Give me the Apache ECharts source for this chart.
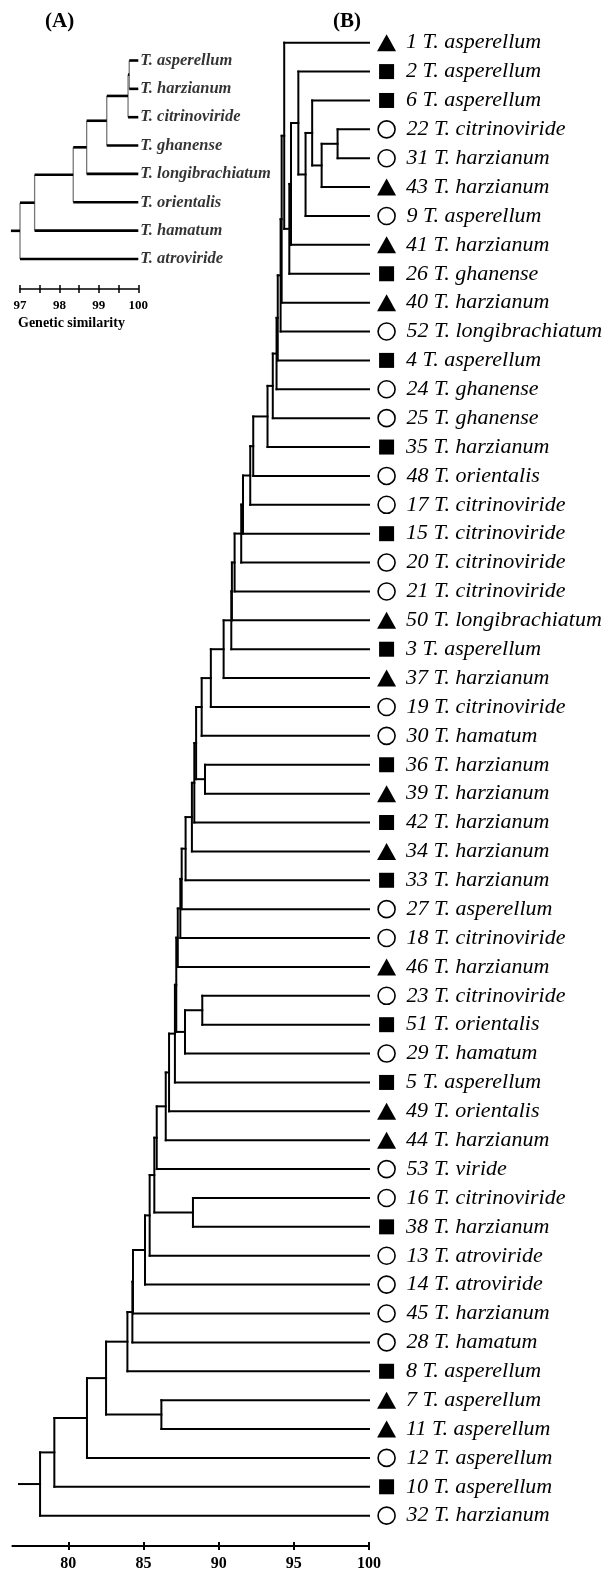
<!DOCTYPE html>
<html><head><meta charset="utf-8">
<script src="https://cdn.jsdelivr.net/npm/echarts@6/dist/echarts.min.js"></script>
<style>html,body{margin:0;padding:0;background:#fff}#c{width:608px;height:1574px}</style>
</head><body><div id="c"></div>
<script>
// ---------- DATA: panel B (dendrogram of strains) ----------
const strainOrder = [1,2,6,22,31,43,9,41,26,40,52,4,24,25,35,48,17,15,20,21,50,3,37,19,30,36,39,42,34,33,27,18,46,23,51,29,5,49,44,53,16,38,13,14,45,28,8,7,11,12,10,32];
const strainSpecies = ['asperellum','asperellum','asperellum','citrinoviride','harzianum','harzianum','asperellum','harzianum','ghanense','harzianum','longibrachiatum','asperellum','ghanense','ghanense','harzianum','orientalis','citrinoviride','citrinoviride','citrinoviride','citrinoviride','longibrachiatum','asperellum','harzianum','citrinoviride','hamatum','harzianum','harzianum','harzianum','harzianum','harzianum','asperellum','citrinoviride','harzianum','citrinoviride','orientalis','hamatum','asperellum','orientalis','harzianum','viride','citrinoviride','harzianum','atroviride','atroviride','harzianum','hamatum','asperellum','asperellum','asperellum','asperellum','asperellum','harzianum'];
// T = filled triangle, S = filled square, C = open circle
const strainMarker = ['T','S','S','C','C','T','C','T','S','T','C','S','C','C','S','C','C','S','C','C','T','S','T','C','C','S','T','S','T','S','C','C','T','C','S','C','S','T','T','C','C','S','C','C','C','C','S','T','T','C','S','C'];
// merges: [child, child, similarity]; numbers = strain, 'mK' = K-th merge
const mergesB = [
  [22,31,97.91],['m0',43,96.85],[6,'m1',96.22],['m2',9,95.78],[2,'m3',95.30],
  ['m4',41,94.81],['m5',26,94.70],[1,'m6',94.36],['m7',40,94.19],['m8',52,94.12],
  ['m9',4,93.93],['m10',24,93.85],['m11',25,93.60],['m12',35,93.25],['m13',48,92.30],
  ['m14',17,92.10],['m15',15,91.62],['m16',20,91.50],['m17',21,91.06],['m18',50,90.88],
  ['m19',3,90.84],['m20',37,90.33],['m21',19,89.48],['m22',30,88.87],[36,39,89.09],
  ['m23','m24',88.50],['m25',42,88.38],['m26',34,88.22],['m27',33,87.80],['m28',27,87.54],
  ['m29',18,87.45],['m30',46,87.28],[23,51,88.91],['m32',29,87.76],['m31','m33',87.18],
  ['m34',5,87.09],['m35',49,86.70],['m36',44,86.48],['m37',53,85.88],[16,38,88.29],
  ['m38','m39',85.72],['m40',13,85.41],['m41',14,85.10],['m42',45,84.30],['m43',28,84.26],
  ['m44',8,83.93],[7,11,86.19],['m45','m46',82.51],['m47',12,81.24],['m48',10,79.07],
  ['m49',32,78.12]
];
const rootStubB = 76.72;
const ticksB = [80,85,90,95,100];

// ---------- DATA: panel A (species dendrogram) ----------
const speciesA = ['T. asperellum','T. harzianum','T. citrinoviride','T. ghanense','T. longibrachiatum','T. orientalis','T. hamatum','T. atroviride'];
const mergesA = [[0,1,99.77],['m0',2,99.74],['m1',3,99.20],['m2',4,98.69],['m3',5,98.35],['m4',6,97.37],['m5',7,97.00]];
const rootStubA = 96.77;
const ticksA = [97,97.5,98,98.5,99,99.5,100];
const tickLabelsA = [97,98,99,100];

// ---------- layout helpers ----------
function layoutTree(leafKeys, merges, leafX) {
  const pos = {};
  leafKeys.forEach((k, i) => { pos['L' + k] = {x: leafX, y: i}; });
  const segs = [];
  merges.forEach((m, j) => {
    const ka = typeof m[0] === 'string' ? m[0] : 'L' + m[0];
    const kb = typeof m[1] === 'string' ? m[1] : 'L' + m[1];
    const h = m[2], pa = pos[ka], pb = pos[kb];
    segs.push([h, pa.y, h, pb.y, 0]);
    segs.push([h, pa.y, pa.x, pa.y, 1]);
    segs.push([h, pb.y, pb.x, pb.y, 1]);
    pos['m' + j] = {x: h, y: (pa.y + pb.y) / 2};
  });
  return {segs, root: pos['m' + (merges.length - 1)]};
}
const treeB = layoutTree(strainOrder, mergesB, 100);
treeB.segs.push([rootStubB, treeB.root.y, treeB.root.x, treeB.root.y, 1]);
const treeA = layoutTree(speciesA.map((s, i) => i), mergesA, 100);
treeA.segs.push([rootStubA, treeA.root.y, treeA.root.x, treeA.root.y, 1]);

const SERIF = '"Liberation Serif","Times New Roman",serif';
const MARKER_X = 101.17;

function segRenderer(hStyle, vStyle) {
  return function (params, api) {
    const p1 = api.coord([api.value(0), api.value(1)]);
    const p2 = api.coord([api.value(2), api.value(3)]);
    const st = api.value(4) === 1 ? hStyle : vStyle;
    return {type: 'line', shape: {x1: p1[0], y1: p1[1], x2: p2[0], y2: p2[1]},
      style: Object.assign({fill: null}, st)};
  };
}

const markerData = strainOrder.map((s, i) => {
  const m = strainMarker[i];
  const item = {value: [MARKER_X, i], name: s + ' T. ' + strainSpecies[i]};
  if (m === 'T') { item.symbol = 'triangle'; item.symbolSize = [19, 17]; item.itemStyle = {color: '#000', opacity: 1}; item.label = {distance: 10}; }
  else if (m === 'S') { item.symbol = 'rect'; item.symbolSize = [15, 15]; item.itemStyle = {color: '#000', opacity: 1}; item.label = {distance: 12}; }
  else { item.symbol = 'circle'; item.symbolSize = 17; item.itemStyle = {color: '#fff', borderColor: '#000', borderWidth: 1.6, opacity: 1}; item.label = {distance: 10.5}; }
  return item;
});

function xAx(grid, min, ticks, labels, w, fs, inside) {
  return {gridIndex: grid, type: 'value', position: 'bottom', min: min, max: 100, splitLine: {show: false},
    axisLine: {show: !inside, onZero: false, lineStyle: {color: '#000', width: w}},
    axisTick: {show: true, inside: inside, customValues: ticks, length: 4, lineStyle: {color: '#000', width: w}},
    axisLabel: inside ? {show: false} : {show: true, customValues: labels, margin: 10, fontFamily: SERIF, fontWeight: 'bold', fontSize: fs, color: '#000'}};
}

const chart = echarts.init(document.getElementById('c'), null, {renderer: 'canvas'});
chart.setOption({
  animation: false,
  backgroundColor: '#fff',
  title: [
    {text: '(A)', left: 45, top: 11, padding: 0, textStyle: {fontFamily: SERIF, fontWeight: 'bold', fontSize: 21, color: '#000'}},
    {text: '(B)', left: 333, top: 11, padding: 0, textStyle: {fontFamily: SERIF, fontWeight: 'bold', fontSize: 21, color: '#000'}},
    {text: 'Genetic similarity', left: 18, top: 316, padding: 0, textStyle: {fontFamily: SERIF, fontWeight: 'bold', fontSize: 14, color: '#000'}}
  ],
  grid: [
    {left: 12.4, right: 239, top: 13.82, bottom: 28},
    {left: 20, right: 469.7, top: 32.15, bottom: 1285}
  ],
  xAxis: [
    xAx(0, 76.28, ticksB, ticksB, 2, 16, false),
    xAx(0, 76.28, ticksB, ticksB, 2, 16, true),
    xAx(1, 97, ticksA, tickLabelsA, 1.5, 13, false),
    xAx(1, 97, ticksA, tickLabelsA, 1.5, 13, true)
  ],
  yAxis: [
    {gridIndex: 0, type: 'value', inverse: true, min: -1, max: 52.05, show: false},
    {gridIndex: 1, type: 'value', inverse: true, min: -1, max: 8.06, show: false}
  ],
  series: [
    {type: 'custom', xAxisIndex: 0, yAxisIndex: 0, clip: false, silent: true,
      encode: {x: [0, 2], y: [1, 3]}, data: treeB.segs,
      renderItem: segRenderer({stroke: '#000', lineWidth: 2, lineCap: 'square'}, {stroke: '#000', lineWidth: 2, lineCap: 'square'})},
    {type: 'scatter', xAxisIndex: 0, yAxisIndex: 0, clip: false, silent: true, data: markerData,
      label: {show: true, position: 'right', formatter: p => p.name, fontFamily: SERIF, fontStyle: 'italic', fontSize: 22, color: '#000'}},
    {type: 'custom', xAxisIndex: 2, yAxisIndex: 1, clip: false, silent: true,
      encode: {x: [0, 2], y: [1, 3]}, data: treeA.segs,
      renderItem: segRenderer({stroke: '#000', lineWidth: 2.6, lineCap: 'butt'}, {stroke: '#777', lineWidth: 1.3})},
    {type: 'scatter', xAxisIndex: 2, yAxisIndex: 1, clip: false, silent: true, symbolSize: 0,
      data: speciesA.map((s, i) => ({value: [100, i], name: s})),
      label: {show: true, position: 'right', distance: 2, formatter: p => p.name, fontFamily: SERIF, fontStyle: 'italic', fontWeight: 'bold', fontSize: 16.5, color: '#000'}}
  ]
});
</script>
</body></html>
